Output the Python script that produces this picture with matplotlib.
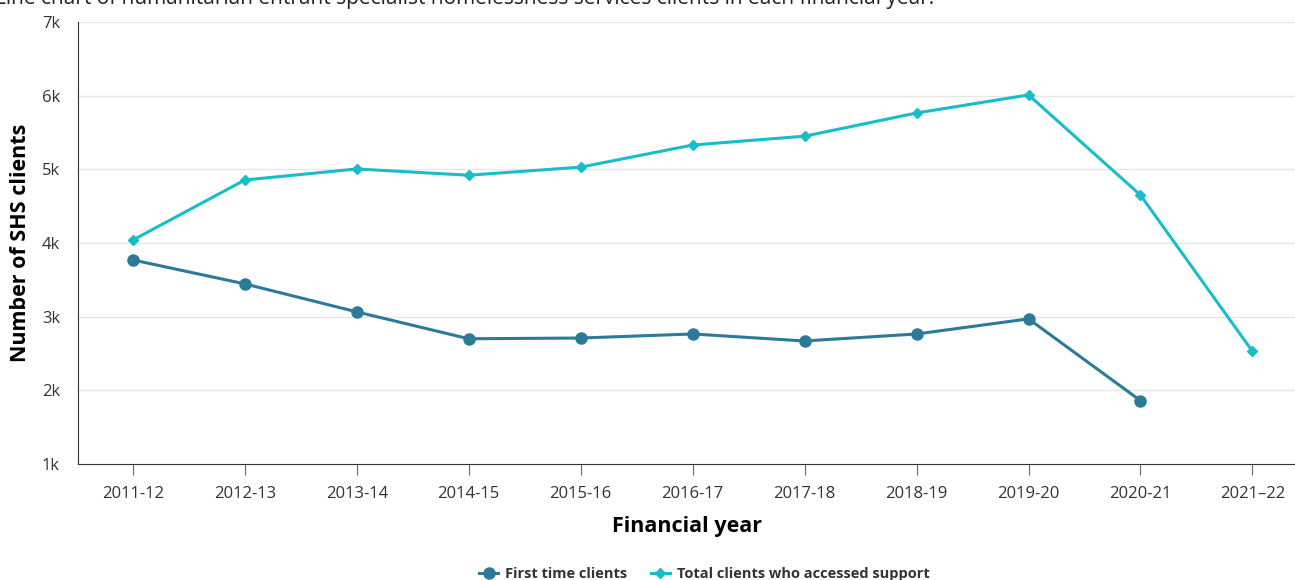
import numpy as np
import matplotlib.pyplot as plt

plt.rcParams['font.family'] = ['Open Sans', 'DejaVu Sans']

years = ['2011-12', '2012-13', '2013-14', '2014-15', '2015-16', '2016-17',
         '2017-18', '2018-19', '2019-20', '2020-21', '2021\u201322']
first_time = [3770, 3445, 3065, 2700, 2710, 2765, 2670, 2765, 2970, 1860]
total = [4040, 4855, 5005, 4920, 5030, 5330, 5450, 5765, 6010, 4650, 2530]

c_first = '#2b7b98'
c_total = '#19bcc9'

fig = plt.figure(figsize=(12.95, 5.8), dpi=100)
ax = fig.add_axes([78/1295, 1 - 464/580, 1 - 78/1295, 442/580])

x = np.arange(len(years))
ax.plot(x[:len(first_time)], first_time, color=c_first, lw=2.2, marker='o',
        ms=8, label='First time clients', zorder=3)
ax.plot(x, total, color=c_total, lw=2.2, marker='D', ms=5.5,
        label='Total clients who accessed support', zorder=3)

ax.set_xlim(-0.49, 10.38)
ax.set_ylim(1000, 7000)
ax.set_yticks(range(1000, 8000, 1000))
ax.set_yticklabels([f'{v // 1000}k' for v in range(1000, 8000, 1000)])
ax.set_xticks(x)
ax.set_xticklabels(years)

ax.grid(axis='y', color='#e6e6e6', lw=1)
ax.set_axisbelow(True)
for s in ['top', 'right']:
    ax.spines[s].set_visible(False)
ax.spines['left'].set_color('#333333')
ax.spines['bottom'].set_color('#333333')
ax.tick_params(axis='y', length=0, labelsize=12, colors='#333333', pad=13)
ax.tick_params(axis='x', length=8, color='#666666', labelsize=12,
               labelcolor='#333333', pad=8)

ax.set_xlabel('Financial year', fontsize=15.5, fontweight='bold', labelpad=10)
ax.set_ylabel('Number of SHS clients', fontsize=15.5, fontweight='bold')
ax.yaxis.set_label_coords(-0.039, 0.5)

fig.text(-0.004, 1.003, 'Line chart of humanitarian entrant specialist homelessness services clients in each financial year.',
         fontsize=15, color='#222222', ha='left', va='center')

leg = fig.legend(loc='lower center', bbox_to_anchor=(0.544, -0.025), ncol=2,
                 frameon=False, handlelength=1.3, columnspacing=1.6,
                 handletextpad=0.5, prop={'size': 10.5, 'weight': 'bold'})
for t in leg.get_texts():
    t.set_color('#333333')

fig.savefig('out.png', dpi=100)
